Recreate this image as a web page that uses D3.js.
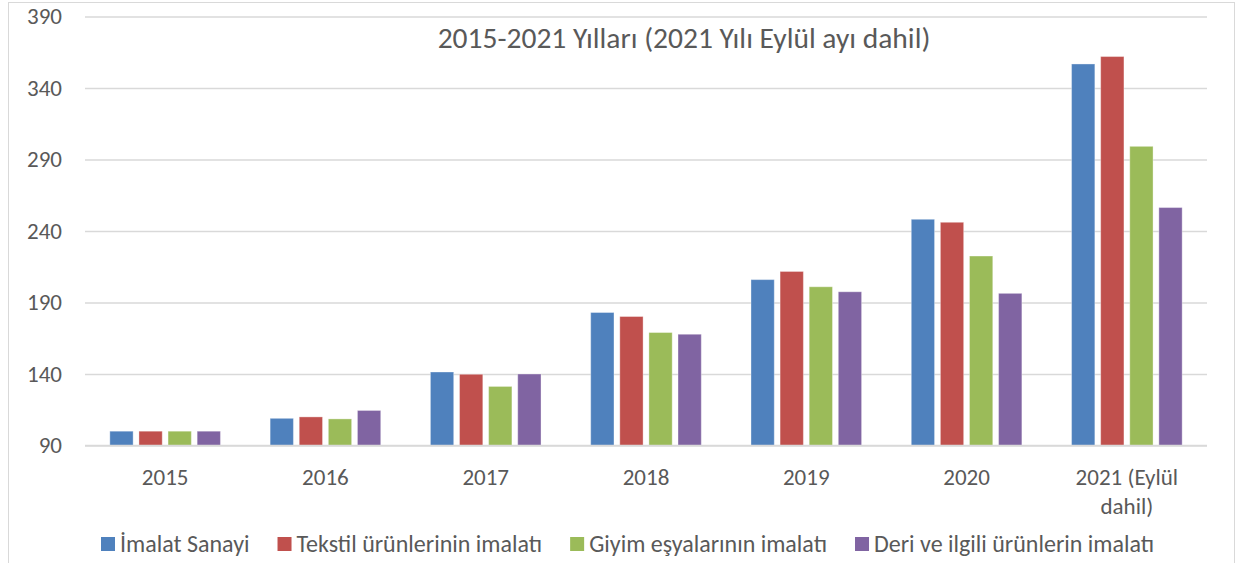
<!DOCTYPE html>
<html lang="tr">
<head>
<meta charset="utf-8" />
<title>2015-2021 Yılları</title>
<script src="https://d3js.org/d3.v7.min.js"></script>
<style>
  body { margin: 0; background: #fff; }
  svg text { font-family: Carlito, Lato, "Open Sans", sans-serif; fill: #595959; }
</style>
</head>
<body>
<script>
// categories and series
var years = ["2015", "2016", "2017", "2018", "2019", "2020", "2021 (Eylül dahil)"];
var seriesNames = ["İmalat Sanayi", "Tekstil ürünlerinin imalatı", "Giyim eşyalarının imalatı", "Deri ve ilgili ürünlerin imalatı"];
var imalat  = [100, 109, 141.4, 183, 206, 248.2, 356.8];
var tekstil = [100, 110, 139.8, 180.2, 211.7, 246.1, 362];
var giyim   = [100, 108.6, 131.3, 169, 201, 222.5, 299.2];
var deri    = [100, 114.5, 140, 167.8, 197.5, 196.4, 256.4];
var yTicks  = [90, 140, 190, 240, 290, 340, 390];
var colors  = ["#4F81BD", "#C0504D", "#9BBB59", "#8064A2"];
var title   = "2015-2021 Yılları (2021 Yılı Eylül ayı dahil)";

var allSeries = [imalat, tekstil, giyim, deri];

var w = 1236, h = 563;
var plotLeft = 85, plotRight = 1207, plotTop = 16.5, plotBottom = 445.5;

var svg = d3.select("body").append("svg")
    .attr("width", w)
    .attr("height", h);

// chart border
svg.append("rect")
    .attr("x", 8.5).attr("y", 2.5)
    .attr("width", 1226).attr("height", 600)
    .attr("fill", "none")
    .attr("stroke", "#d9d9d9")
    .attr("stroke-width", 1);

var x0 = d3.scaleBand()
    .domain(years)
    .range([plotLeft, plotRight])
    .paddingInner(0.31)
    .paddingOuter(0.155);

var x1 = d3.scaleBand()
    .domain(d3.range(4))
    .range([0, x0.bandwidth()])
    .paddingInner(0.2);

var y = d3.scaleLinear()
    .domain([90, 390])
    .range([plotBottom, plotTop]);

// gridlines + tick labels
var yAxis = d3.axisLeft(y)
    .tickValues(yTicks)
    .tickSize(-(plotRight - plotLeft))
    .tickPadding(23);

var gy = svg.append("g")
    .attr("transform", "translate(" + plotLeft + ",0)")
    .call(yAxis);
gy.select(".domain").remove();
gy.selectAll(".tick line").attr("stroke", "#d9d9d9").attr("stroke-width", 1.5);
gy.selectAll(".tick text")
    .attr("font-size", "23px")
    .attr("fill", "#595959")
    .style("font-family", "Carlito, Lato, 'Open Sans', sans-serif");

// title
svg.append("text")
    .attr("x", 684)
    .attr("y", 48)
    .attr("text-anchor", "middle")
    .attr("font-size", "29.5px")
    .text(title);

// bars
var groups = svg.selectAll(".year")
    .data(years)
    .enter()
    .append("g")
    .attr("transform", function (d) { return "translate(" + x0(d) + ",0)"; });

groups.selectAll("rect")
    .data(function (d, i) {
        return allSeries.map(function (s, k) { return { k: k, v: s[i] }; });
    })
    .enter()
    .append("rect")
    .attr("x", function (d) { return x1(d.k); })
    .attr("y", function (d) { return y(d.v); })
    .attr("width", x1.bandwidth())
    .attr("height", function (d) { return y(90) - y(d.v); })
    .attr("fill", function (d) { return colors[d.k]; })
    .attr("stroke", "#ffffff")
    .attr("stroke-opacity", 0.35)
    .attr("stroke-width", 1);

// x axis line
svg.append("line")
    .attr("x1", plotLeft).attr("x2", plotRight)
    .attr("y1", plotBottom).attr("y2", plotBottom)
    .attr("stroke", "#d9d9d9")
    .attr("stroke-width", 1.5);

// category labels (wrap the last one)
svg.selectAll(".xlab")
    .data(years)
    .enter()
    .append("text")
    .attr("class", "xlab")
    .attr("text-anchor", "middle")
    .attr("font-size", "23px")
    .attr("x", function (d) { return x0(d) + x0.bandwidth() / 2; })
    .attr("y", 485)
    .each(function (d) {
        var parts = d === "2021 (Eylül dahil)" ? ["2021 (Eylül", "dahil)"] : [d];
        var t = d3.select(this);
        parts.forEach(function (p, i) {
            t.append("tspan")
                .attr("x", x0(d) + x0.bandwidth() / 2)
                .attr("dy", i === 0 ? 0 : 29)
                .text(p);
        });
    });

// legend
var lx = 101;
seriesNames.forEach(function (name, k) {
    svg.append("rect")
        .attr("x", lx).attr("y", 537)
        .attr("width", 14).attr("height", 14)
        .attr("fill", colors[k]);
    var t = svg.append("text")
        .attr("x", lx + 19)
        .attr("y", 552)
        .attr("font-size", "24px")
        .text(name);
    lx += 19 + t.node().getComputedTextLength() + 28;
});
</script>
</body>
</html>
